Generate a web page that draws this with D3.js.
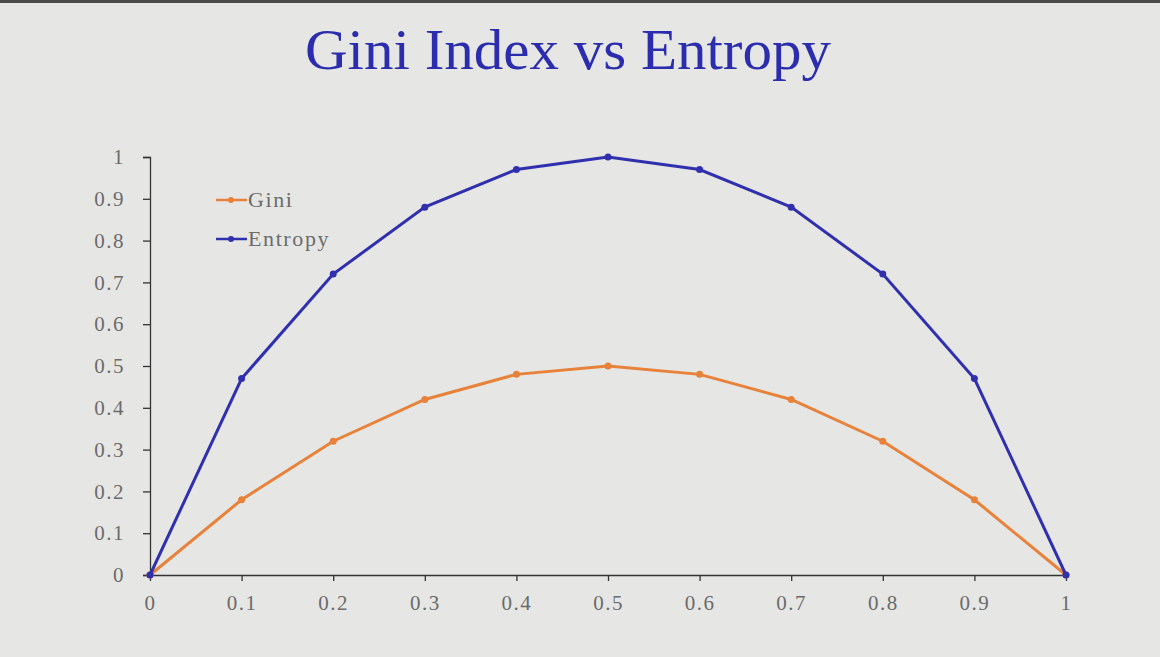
<!DOCTYPE html>
<html lang="en">
<head>
<meta charset="UTF-8">
<script src="https://d3js.org/d3.v7.min.js"></script>
<style>
  body { margin: 0; background: #e6e7e5; }
  svg { display: block; }
  .tick text { font-family: "Liberation Serif", "DejaVu Serif", serif; font-size: 21px; letter-spacing: 1.5px; fill: #6b6b6b; }
  .tick line, .domain { stroke: #333; stroke-width: 1.3; }
</style>
</head>
<body>
<svg width="1160" height="657"></svg>
<script>
  var xValues = [0, 0.1, 0.2, 0.3, 0.4, 0.5, 0.6, 0.7, 0.8, 0.9, 1];
  var gini = [0, 0.18, 0.32, 0.42, 0.48, 0.5, 0.48, 0.42, 0.32, 0.18, 0];
  var entropy = [0, 0.47, 0.72, 0.88, 0.97, 1, 0.97, 0.88, 0.72, 0.47, 0];
  var yTicks = [0, 0.1, 0.2, 0.3, 0.4, 0.5, 0.6, 0.7, 0.8, 0.9, 1];
  var seriesNames = ["Gini", "Entropy"];
  var colors = ["#e8823a", "#3030ae"];

  var svg = d3.select("svg");
  var margin = {top: 157, left: 150, right: 94, bottom: 82};
  var width = 1160 - margin.left - margin.right,
      height = 657 - margin.top - margin.bottom;

  // top dark strip
  svg.append("rect").attr("x", 0).attr("y", 0).attr("width", 1160).attr("height", 3).attr("fill", "#4a4b48");

  svg.append("text")
    .attr("x", 568).attr("y", 69)
    .attr("text-anchor", "middle")
    .attr("font-family", "Liberation Serif, DejaVu Serif, serif")
    .attr("font-size", 56)
    .attr("textLength", 526)
    .attr("lengthAdjust", "spacingAndGlyphs")
    .attr("fill", "#2c2cae")
    .text("Gini Index vs Entropy");

  var g = svg.append("g").attr("transform", "translate(" + margin.left + "," + margin.top + ")");

  var x = d3.scaleLinear().domain([0, 1]).range([0, width]);
  var y = d3.scaleLinear().domain([0, 1]).range([height, 0]);

  g.append("g")
    .attr("transform", "translate(0," + height + ")")
    .call(d3.axisBottom(x).tickValues(xValues).tickSize(6).tickSizeOuter(0).tickFormat(d3.format("")))
    .call(function(a) { a.selectAll("text").attr("y", 35).attr("dy", 0); });

  g.append("g")
    .call(d3.axisLeft(y).tickValues(yTicks).tickSize(7).tickSizeOuter(7).tickPadding(18).tickFormat(d3.format("")));

  var series = [gini, entropy];
  var line = d3.line().x(function(d, i) { return x(xValues[i]); }).y(function(d) { return y(d); });

  series.forEach(function(s, k) {
    g.append("path")
      .datum(s)
      .attr("fill", "none")
      .attr("stroke", colors[k])
      .attr("stroke-width", 3)
      .attr("d", line);
    g.selectAll(".pt" + k)
      .data(s)
      .enter().append("circle")
      .attr("cx", function(d, i) { return x(xValues[i]); })
      .attr("cy", function(d) { return y(d); })
      .attr("r", 3.5)
      .attr("fill", colors[k]);
  });

  // legend
  var legend = svg.append("g").attr("transform", "translate(216,200)");
  seriesNames.forEach(function(name, k) {
    var row = legend.append("g").attr("transform", "translate(0," + (k * 39) + ")");
    row.append("line").attr("x1", 0).attr("x2", 31).attr("y1", 0).attr("y2", 0)
      .attr("stroke", colors[k]).attr("stroke-width", 2.5);
    row.append("circle").attr("cx", 15).attr("cy", 0).attr("r", 3).attr("fill", colors[k]);
    row.append("text").attr("x", 32).attr("y", 7)
      .attr("font-family", "Liberation Serif, DejaVu Serif, serif")
      .attr("font-size", 22)
      .attr("letter-spacing", 1.6)
      .attr("fill", "#6b6b6b")
      .text(name);
  });
</script>
</body>
</html>
